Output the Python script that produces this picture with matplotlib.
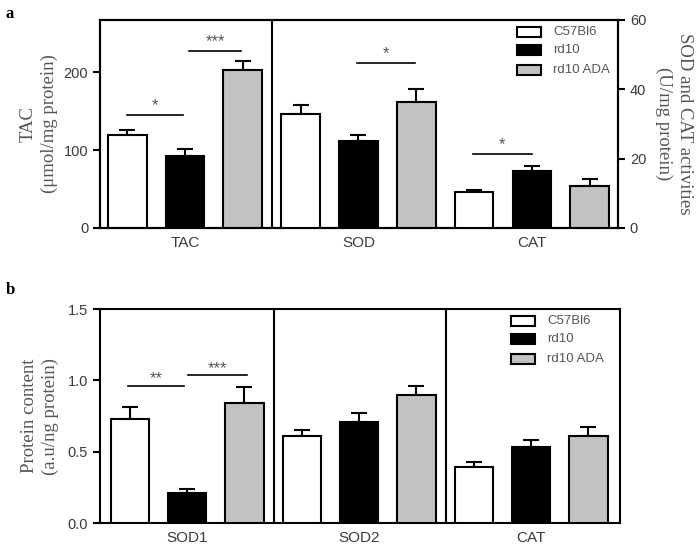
import numpy as np
import matplotlib.pyplot as plt

groups = ["C57Bl6", "rd10", "rd10 ADA"]
colors = ["white", "black", "#c2c2c2"]

# panel a: TAC on left axis, SOD / CAT activities on right axis
tac_mean = [119, 93, 203]
tac_err = [7, 8, 11]
act_labels = ["SOD", "CAT"]
act_mean = [[33.0, 25.2, 36.3], [10.4, 16.3, 12.2]]
act_err = [[2.5, 1.5, 3.7], [0.6, 1.7, 2.0]]

# panel b: protein content
prot_labels = ["SOD1", "SOD2", "CAT"]
prot_mean = [[0.73, 0.21, 0.84], [0.61, 0.71, 0.90], [0.39, 0.535, 0.61]]
prot_err = [[0.08, 0.03, 0.11], [0.04, 0.06, 0.06], [0.035, 0.05, 0.06]]

serif = ["Liberation Serif", "DejaVu Serif"]
sans = ["Liberation Sans", "DejaVu Sans"]
txt = "#3a3a3a"
grey_lab = "#555555"
bw = 0.67

plt.rcParams['font.family'] = sans


def bars(ax, pos, means, errs):
    for p, m, e, c in zip(pos, means, errs, colors):
        ax.bar(p, m, width=bw, color=c, edgecolor="black", linewidth=1.5, zorder=3)
        ax.errorbar(p, m, yerr=[[0], [e]], fmt="none", ecolor="black",
                    elinewidth=1.5, capsize=6, capthick=1.5, zorder=2)


def sig(ax, x0, x1, y, stars, dy):
    ax.plot([x0, x1], [y, y], color="black", lw=1.2, zorder=4)
    ax.text((x0 + x1) / 2, y + dy, stars, ha="center", va="center",
            fontsize=12, color=grey_lab)


def legend(ax, fig, x, ys):
    for y, c, g in zip(ys, colors, groups):
        fig.patches.append(plt.Rectangle((x, y - 0.009), 0.034, 0.018, transform=fig.transFigure,
                                         facecolor=c, edgecolor="black", linewidth=1.5))
        fig.text(x + 0.052, y, g, fontsize=9.5, color=grey_lab, va="center", family=sans)


fig = plt.figure(figsize=(6.97, 5.52), dpi=100)

# ---------- panel a ----------
ax = fig.add_axes([0.1435, 0.587, 0.7432, 0.3768])
ax2 = ax.twinx()
bars(ax, [0, 1, 2], tac_mean, tac_err)
for i, (m, e) in enumerate(zip(act_mean, act_err)):
    bars(ax2, [3 + 3 * i, 4 + 3 * i, 5 + 3 * i], m, e)
ax.set_xlim(-0.47, 8.49)
ax.set_ylim(0, 267)
ax2.set_ylim(0, 60)
ax.axvline(2.51, color="black", lw=1.5)
ax.set_yticks([0, 100, 200])
ax2.set_yticks([0, 20, 40, 60])
ax.set_xticks([1, 4, 7])
ax.set_xticklabels(["TAC"] + act_labels)
for a in (ax, ax2):
    a.tick_params(axis="y", labelsize=10.5, labelcolor=txt, width=1.5, length=5)
    a.tick_params(axis="x", length=0, labelsize=11, labelcolor=txt, pad=6)
    for s in a.spines.values():
        s.set_linewidth(1.5)
ax.set_ylabel("TAC\n(μmol/mg protein)", family=serif, fontsize=13.5, color=grey_lab,
              labelpad=4, linespacing=1.3)
ax2.set_ylabel("SOD and CAT activities\n(U/mg protein)", family=serif, fontsize=13.5,
               color=grey_lab, rotation=-90, labelpad=34, linespacing=1.3)
sig(ax, 0, 0.97, 145, "*", 12)
sig(ax, 1.07, 1.97, 227, "***", 12)
sig(ax2, 3.97, 4.98, 47.5, "*", 2.8)
sig(ax2, 5.98, 7.0, 21.2, "*", 2.8)
legend(ax, fig, 0.742, [1 - 32 / 552, 1 - 50 / 552, 1 - 70 / 552])
fig.text(0.008, 0.975, "a", family=serif, fontsize=12, fontweight="bold", va="center")

# ---------- panel b ----------
bx = fig.add_axes([0.1435, 0.0525, 0.746, 0.3877])
for i, (m, e) in enumerate(zip(prot_mean, prot_err)):
    bars(bx, [3 * i, 3 * i + 1, 3 * i + 2], m, e)
bx.set_xlim(-0.52, 8.55)
bx.set_ylim(0, 1.5)
bx.axvline(2.52, color="black", lw=1.5)
bx.axvline(5.51, color="black", lw=1.5)
bx.set_yticks([0, 0.5, 1.0, 1.5])
bx.set_yticklabels(["0.0", "0.5", "1.0", "1.5"])
bx.set_xticks([1, 4, 7])
bx.set_xticklabels(prot_labels)
bx.tick_params(axis="y", labelsize=10.5, labelcolor=txt, width=1.5, length=5)
bx.tick_params(axis="x", length=0, labelsize=11, labelcolor=txt, pad=6)
for s in bx.spines.values():
    s.set_linewidth(1.5)
bx.set_ylabel("Protein content\n(a.u/ng protein)", family=serif, fontsize=13.5,
              color=grey_lab, labelpad=6, linespacing=1.3)
sig(bx, -0.04, 0.95, 0.96, "**", 0.05)
sig(bx, 1.02, 2.05, 1.035, "***", 0.05)
legend(bx, fig, 0.733, [1 - 321 / 552, 1 - 339 / 552, 1 - 359 / 552])
fig.text(0.008, 0.475, "b", family=serif, fontsize=12, fontweight="bold", va="center")

fig.savefig("out.png", dpi=100)
